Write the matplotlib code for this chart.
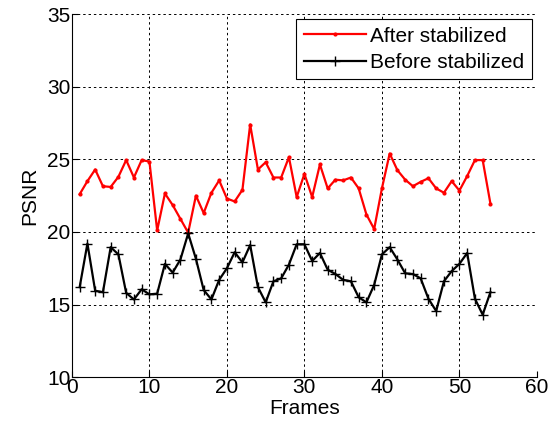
import matplotlib
matplotlib.use("Agg")
import matplotlib.pyplot as plt
import numpy as np

plt.rcParams["font.family"] = ["Liberation Sans", "DejaVu Sans"]

frames = np.arange(1, 55)
after = [22.6, 23.5, 24.3, 23.15, 23.1, 23.8, 24.95, 23.75, 24.95, 24.85,
         20.1, 22.65, 21.85, 20.9, 19.95, 22.5, 21.3, 22.7, 23.55, 22.3,
         22.1, 22.9, 27.4, 24.3, 24.8, 23.75, 23.75, 25.15, 22.4, 24.0,
         22.4, 24.65, 23.0, 23.6, 23.55, 23.75, 23.0, 21.2, 20.2, 23.0,
         25.4, 24.25, 23.6, 23.15, 23.45, 23.7, 23.0, 22.7, 23.5, 22.85,
         23.85, 24.95, 24.95, 21.95]
before = [16.2, 19.2, 15.95, 15.85, 18.95, 18.45, 15.8, 15.35, 16.05, 15.7,
          15.75, 17.8, 17.2, 18.1, 19.9, 18.15, 16.0, 15.35, 16.7, 17.5,
          18.6, 17.9, 19.1, 16.2, 15.15, 16.6, 16.8, 17.75, 19.15, 19.15,
          18.0, 18.55, 17.4, 17.1, 16.7, 16.6, 15.5, 15.15, 16.35, 18.45,
          18.95, 18.1, 17.15, 17.1, 16.8, 15.4, 14.55, 16.6, 17.3, 17.8,
          18.55, 15.4, 14.3, 15.85]

fig = plt.figure(figsize=(5.49, 4.30), dpi=100)
ax = fig.add_axes([0.131, 0.123, 0.847, 0.844])

ax.plot(frames, after, ".-", color="red", lw=1.6, ms=4, label="After stabilized")
ax.plot(frames, before, "+-", color="black", lw=1.6, ms=7.5, mew=1.0, label="Before stabilized")

ax.set_xlim(0, 60)
ax.set_ylim(10, 35)
ax.set_xticks(np.arange(0, 61, 10))
ax.set_yticks(np.arange(10, 36, 5))
ax.grid(True, color="black", ls=(0, (2.5, 3)), lw=0.7)
ax.spines["top"].set_visible(False)
ax.spines["right"].set_visible(False)
ax.tick_params(direction="in", labelsize=15, length=4, pad=1)
ax.set_xlabel("Frames", fontsize=15, labelpad=1)
ax.set_ylabel("PSNR", fontsize=15, labelpad=6)

leg = ax.legend(loc="upper right", fontsize=15, fancybox=False, framealpha=1,
                edgecolor="black", handlelength=3.0, borderpad=0.35,
                labelspacing=0.35, handletextpad=0.2, borderaxespad=0.25)
leg.get_frame().set_linewidth(0.8)

fig.savefig("out.png", dpi=100)
